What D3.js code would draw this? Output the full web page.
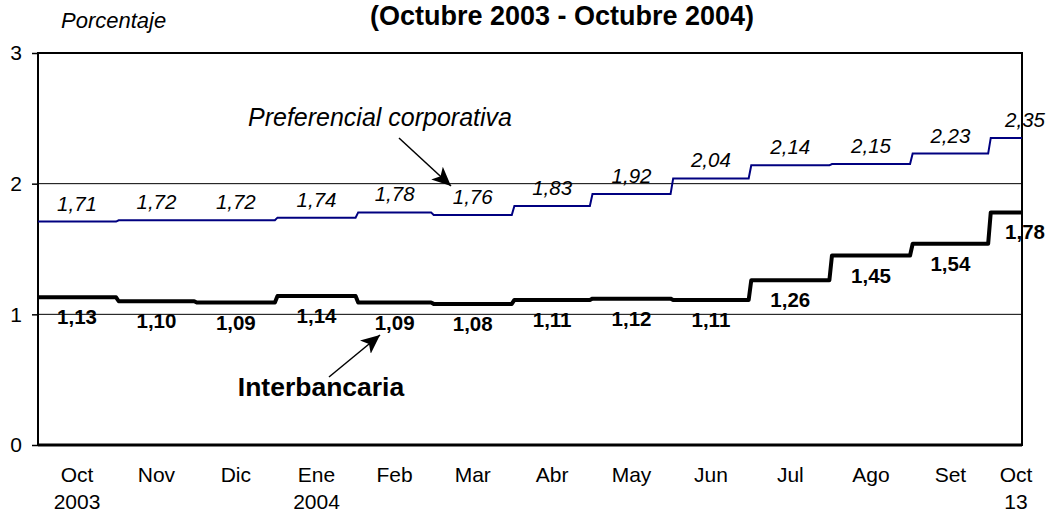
<!DOCTYPE html>
<html>
<head>
<meta charset="utf-8">
<script src="https://cdn.jsdelivr.net/npm/d3@7"></script>
<style>
  body { margin: 0; background: #fff; }
  svg { display: block; font-family: "Liberation Sans", Arial, sans-serif; }
</style>
</head>
<body>
<script>
// datos mensuales (promedio del mes)
const inicioPeriodos = ["2003-10-01", "2003-11-01", "2003-12-01", "2004-01-01", "2004-02-01", "2004-03-01",
  "2004-04-01", "2004-05-01", "2004-06-01", "2004-07-01", "2004-08-01", "2004-09-01", "2004-10-01"];
const fechaFinal = "2004-10-13";
const mesLabels = ["Oct", "Nov", "Dic", "Ene", "Feb", "Mar", "Abr", "May", "Jun", "Jul", "Ago", "Set", "Oct"];
const anioLabels = ["2003", "", "", "2004", "", "", "", "", "", "", "", "", "13"];
const preferencial = [1.71, 1.72, 1.72, 1.74, 1.78, 1.76, 1.83, 1.92, 2.04, 2.14, 2.15, 2.23, 2.35];
const interbancaria = [1.13, 1.10, 1.09, 1.14, 1.09, 1.08, 1.11, 1.12, 1.11, 1.26, 1.45, 1.54, 1.78];
const yTicks = [0, 1, 2, 3];

const w = 1055, h = 513;
const pLeft = 38, pRight = 1022, pTop = 53, pBottom = 445;

const parse = d3.timeParse("%Y-%m-%d");
const starts = inicioPeriodos.map(parse);
const fin = parse(fechaFinal);
const ends = starts.map((d, i) => i < starts.length - 1 ? d3.timeDay.offset(starts[i + 1], -1) : fin);
const fmt = d3.format(".2f");
const coma = v => fmt(v).replace(".", ",");

const svg = d3.select("body").append("svg")
  .attr("width", w)
  .attr("height", h);

svg.append("defs").append("marker")
  .attr("id", "flecha")
  .attr("viewBox", "0 0 10 10")
  .attr("refX", 10).attr("refY", 5)
  .attr("markerWidth", 19).attr("markerHeight", 19)
  .attr("markerUnits", "userSpaceOnUse")
  .attr("orient", "auto")
  .append("path")
  .attr("d", "M0,0.5 L10,5 L0,9.5 L2.5,5 z")
  .attr("fill", "#000");

const xScale = d3.scaleTime()
  .domain([starts[0], fin])
  .range([pLeft, pRight]);

const yScale = d3.scaleLinear()
  .domain([0, 3])
  .range([pBottom, pTop]);

// gridlines
svg.append("g")
  .selectAll("line")
  .data([1, 2])
  .enter()
  .append("line")
  .attr("x1", pLeft).attr("x2", pRight)
  .attr("y1", d => yScale(d)).attr("y2", d => yScale(d))
  .attr("stroke", "#000")
  .attr("stroke-width", 1);

// marco
svg.append("rect")
  .attr("x", pLeft).attr("y", pTop)
  .attr("width", pRight - pLeft).attr("height", pBottom - pTop)
  .attr("fill", "none")
  .attr("stroke", "#000")
  .attr("stroke-width", 2);
svg.append("line")
  .attr("x1", pLeft).attr("x2", pRight)
  .attr("y1", pBottom).attr("y2", pBottom)
  .attr("stroke", "#000").attr("stroke-width", 3);

// eje y
let yAxis = d3.axisLeft(yScale)
  .tickValues(yTicks)
  .tickSize(6)
  .tickPadding(10)
  .tickFormat(d3.format("d"));
let yAxisGroup = svg.append("g")
  .attr("transform", `translate(${pLeft}, 0)`)
  .call(yAxis);
yAxisGroup.select(".domain").remove();
yAxisGroup.selectAll(".tick line").attr("stroke", "#000").attr("stroke-width", 1.5);
yAxisGroup.selectAll(".tick text")
  .attr("font-size", 21)
  .attr("font-family", "Liberation Sans, Arial, sans-serif")
  .attr("fill", "#000");

// etiquetas eje x (centro de cada periodo)
const mid = i => i < starts.length - 1
  ? xScale(new Date((starts[i].getTime() + ends[i].getTime()) / 2))
  : xScale(fin) - 6;
const xLab = svg.append("g").attr("font-size", 21).attr("text-anchor", "middle");
xLab.selectAll("text.mes")
  .data(mesLabels)
  .enter()
  .append("text")
  .attr("class", "mes")
  .attr("x", (d, i) => mid(i))
  .attr("y", 482)
  .text(d => d);
xLab.selectAll("text.anio")
  .data(anioLabels)
  .enter()
  .append("text")
  .attr("class", "anio")
  .attr("x", (d, i) => mid(i))
  .attr("y", 509)
  .text(d => d);

// series escalonadas
const pasos = vals => vals.flatMap((v, i) => [[starts[i], v], [ends[i], v]]);
const line = d3.line()
  .x(d => xScale(d[0]))
  .y(d => yScale(d[1]));

svg.append("path")
  .attr("d", line(pasos(preferencial)))
  .attr("fill", "none")
  .attr("stroke", "#000080")
  .attr("stroke-width", 2);

svg.append("path")
  .attr("d", line(pasos(interbancaria)))
  .attr("fill", "none")
  .attr("stroke", "#000")
  .attr("stroke-width", 4)
  .attr("stroke-linejoin", "round");

const labX = i => i < starts.length - 1 ? mid(i) : xScale(fin) + 3;

svg.append("g")
  .selectAll("text")
  .data(preferencial)
  .enter()
  .append("text")
  .attr("x", (d, i) => labX(i))
  .attr("y", d => yScale(d) - 11)
  .attr("text-anchor", "middle")
  .attr("font-size", 20.5)
  .attr("font-style", "italic")
  .text(d => coma(d));

svg.append("g")
  .selectAll("text")
  .data(interbancaria)
  .enter()
  .append("text")
  .attr("x", (d, i) => labX(i))
  .attr("y", d => yScale(d) + 27)
  .attr("text-anchor", "middle")
  .attr("font-size", 20.5)
  .attr("font-weight", "bold")
  .text(d => coma(d));

// títulos
svg.append("text")
  .attr("x", 562).attr("y", 25)
  .attr("text-anchor", "middle")
  .attr("font-size", 27)
  .attr("font-weight", "bold")
  .text("(Octubre 2003 - Octubre 2004)");

svg.append("text")
  .attr("x", 61).attr("y", 28)
  .attr("font-size", 22)
  .attr("font-style", "italic")
  .text("Porcentaje");

// anotaciones
svg.append("text")
  .attr("x", 380).attr("y", 126)
  .attr("text-anchor", "middle")
  .attr("font-size", 25)
  .attr("font-style", "italic")
  .text("Preferencial corporativa");
svg.append("line")
  .attr("x1", 399).attr("y1", 138)
  .attr("x2", 451).attr("y2", 186)
  .attr("stroke", "#000").attr("stroke-width", 1.5)
  .attr("marker-end", "url(#flecha)");

svg.append("text")
  .attr("x", 321).attr("y", 396)
  .attr("text-anchor", "middle")
  .attr("font-size", 26.5)
  .attr("font-weight", "bold")
  .text("Interbancaria");
svg.append("line")
  .attr("x1", 329).attr("y1", 377)
  .attr("x2", 380).attr("y2", 335)
  .attr("stroke", "#000").attr("stroke-width", 1.5)
  .attr("marker-end", "url(#flecha)");
</script>
</body>
</html>
